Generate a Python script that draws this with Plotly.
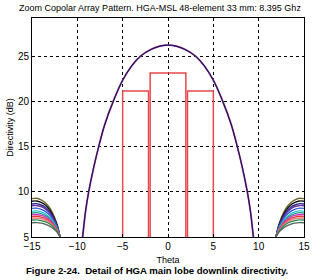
import plotly.graph_objects as go

# Main lobe, symmetric about 0
main_theta = [0, 1, 2, 3, 4, 5, 6, 7, 7.65, 8.2, 8.75, 9.1, 9.42, 9.6]
main_db = [26.3, 26.15, 25.75, 25.1, 24.0, 22.4, 20.15, 17.4, 15.0, 12.7, 10.0, 7.8, 5.0, 3.6]

# Sidelobe curves (right side; left side mirrored)
side_theta = [11.9, 12.2, 12.6, 13.0, 13.5, 14.0, 14.5, 15.0]
side_series = [
    [5, 6.29, 7.37, 8.18, 8.78, 9.13, 9.30, 9.26],
    [5, 6.20, 7.20, 7.96, 8.52, 8.84, 9.00, 8.96],
    [5, 6.11, 7.04, 7.74, 8.26, 8.55, 8.70, 8.66],
    [5, 6.05, 6.93, 7.59, 8.08, 8.36, 8.50, 8.47],
    [5, 5.96, 6.76, 7.37, 7.82, 8.07, 8.20, 8.17],
    [5, 5.87, 6.60, 7.15, 7.55, 7.78, 7.90, 7.87],
    [5, 5.81, 6.49, 7.00, 7.38, 7.59, 7.70, 7.67],
    [5, 5.75, 6.38, 6.85, 7.20, 7.40, 7.50, 7.48],
    [5, 5.69, 6.27, 6.70, 7.02, 7.21, 7.30, 7.28],
    [5, 5.63, 6.16, 6.55, 6.85, 7.02, 7.10, 7.08],
    [5, 5.57, 6.05, 6.41, 6.67, 6.82, 6.90, 6.88],
    [5, 5.48, 5.88, 6.18, 6.41, 6.54, 6.60, 6.58],
]
side_colors = ["#6b6b2a", "#111111", "#2b2b8f", "#6a2d9e", "#3355dd", "#33cccc",
               "#2a9d8f", "#cc33cc", "#e0403a", "#f08080", "#2e8b57", "#556b55"]

# Red step mask: (x_start, x_end, level)
step_x0 = [-5.0, -1.97, 2.15]
step_x1 = [-2.15, 1.97, 5.0]
step_level = [21.2, 23.2, 21.2]
step_base = 5.0

title = "Zoom Copolar Array Pattern. HGA-MSL 48-element 33 mm: 8.395 Ghz"
caption = "Figure 2-24.  Detail of HGA main lobe downlink directivity."
xticks = [-15, -10, -5, 0, 5, 10, 15]
yticks = [5, 10, 15, 20, 25]

fig = go.Figure()

# sidelobes
for vals, col in zip(side_series, side_colors):
    fig.add_trace(go.Scatter(x=side_theta, y=vals, mode="lines", line=dict(color=col, width=1.4, shape="spline")))
    fig.add_trace(go.Scatter(x=[-t for t in side_theta], y=vals, mode="lines", line=dict(color=col, width=1.4, shape="spline")))

# main lobe
full_theta = [-t for t in main_theta[::-1]] + main_theta[1:]
full_db = main_db[::-1] + main_db[1:]
fig.add_trace(go.Scatter(x=full_theta, y=full_db, mode="lines", line=dict(color="#c040b8", width=1.8, shape="spline")))
fig.add_trace(go.Scatter(x=full_theta, y=full_db, mode="lines", line=dict(color="#1e1850", width=1.2, shape="spline")))

# red steps
for x0, x1, lv in zip(step_x0, step_x1, step_level):
    fig.add_trace(go.Scatter(x=[x0, x0, x1, x1], y=[step_base, lv, lv, step_base], mode="lines",
                             line=dict(color="#e6484c", width=1.5)))

axis_common = dict(showline=True, linecolor="black", linewidth=1, mirror=True,
                   showgrid=True, gridcolor="black", griddash="dot", gridwidth=1,
                   zeroline=False, ticks="inside", ticklen=3, tickcolor="black",
                   tickfont=dict(family="Liberation Sans, Arial", size=10, color="black"))

fig.update_xaxes(range=[-15, 15], tickvals=xticks, **axis_common,
                 title=dict(text="Theta", font=dict(family="Liberation Sans, Arial", size=9, color="black"), standoff=5))
fig.update_yaxes(range=[5, 29.3], tickvals=yticks, **axis_common,
                 title=dict(text="Directivity (dB)", font=dict(family="Liberation Sans, Arial", size=9, color="black"), standoff=2))

fig.update_layout(
    width=320, height=280,
    margin=dict(l=27, r=10, t=18, b=43),
    paper_bgcolor="white", plot_bgcolor="white",
    showlegend=False,
    title=dict(text=title, x=0.5, xanchor="center", y=0.972, yanchor="middle",
               font=dict(family="Liberation Sans, Arial", size=9, color="black")),
    annotations=[dict(text="<b>" + caption + "</b>", x=0.46, xref="paper", y=-0.155, yref="paper",
                      xanchor="center", yanchor="middle", showarrow=False,
                      font=dict(family="Liberation Sans, Arial", size=9.6, color="black"))],
)

fig.write_html("out.html")
